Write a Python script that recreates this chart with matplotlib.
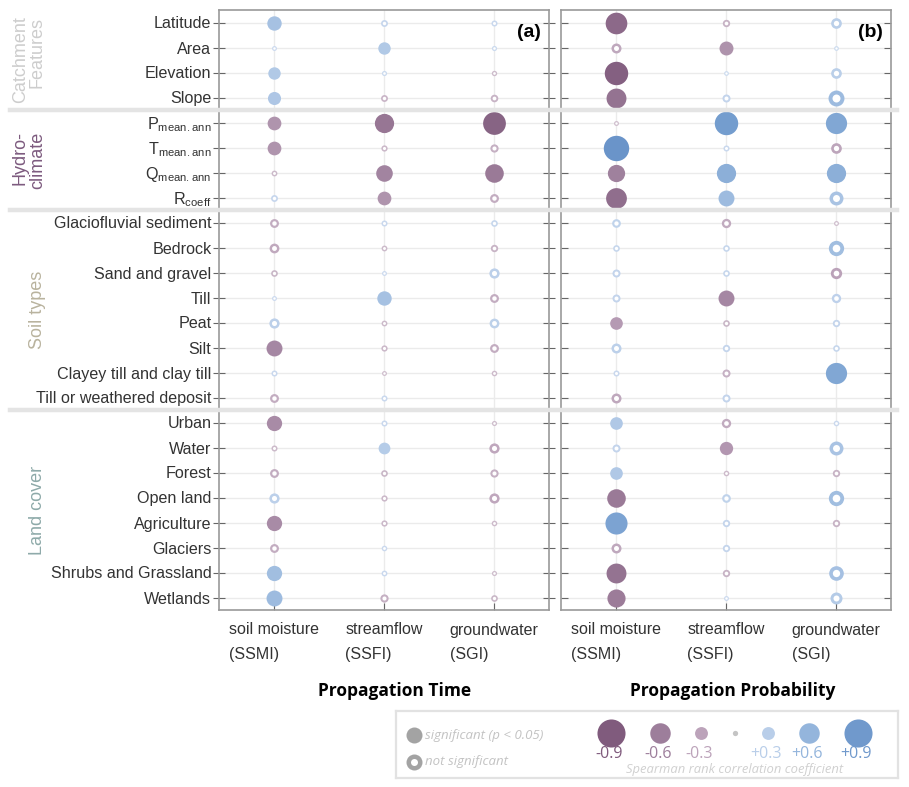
import numpy as np
import matplotlib
matplotlib.use('Agg')
import matplotlib.pyplot as plt
import matplotlib.transforms as mtransforms
from matplotlib.lines import Line2D
from matplotlib.colors import LinearSegmentedColormap, to_hex

plt.rcParams['font.family'] = ['Liberation Sans', 'DejaVu Sans']
plt.rcParams['mathtext.default'] = 'regular'

#==== Data
features = ['Latitude', 'Area', 'Elevation', 'Slope',
            r'P$_{mean.ann}$', r'T$_{mean.ann}$', r'Q$_{mean.ann}$', r'R$_{coeff}$',
            'Glaciofluvial sediment', 'Bedrock', 'Sand and gravel', 'Till', 'Peat',
            'Silt', 'Clayey till and clay till', 'Till or weathered deposit',
            'Urban', 'Water', 'Forest', 'Open land', 'Agriculture', 'Glaciers',
            'Shrubs and Grassland', 'Wetlands']

variables = ['soil moisture\n(SSMI)', 'streamflow\n(SSFI)', 'groundwater\n(SGI)']

# group name, first row, last row, colour
groups = [('Catchment\nFeatures', 0, 3, '#cdcdcd'),
          ('Hydro-\nclimate', 4, 7, '#7d5b7f'),
          ('Soil types', 8, 15, '#b9b39e'),
          ('Land cover', 16, 23, '#8eaaa9')]

nan = np.nan
# Spearman rho, propagation time  (SSMI, SSFI, SGI)
rho_time = [[0.45, 0.11, 0.07], [0.02, 0.36, 0.03], [0.36, 0.03, -0.04], [0.39, -0.11, -0.14],
            [-0.42, -0.67, -0.83], [-0.42, -0.08, -0.17], [-0.06, -0.55, -0.64], [0.11, -0.42, -0.20],
            [-0.20, 0.07, 0.10], [-0.24, -0.06, -0.13], [-0.10, 0.02, 0.26], [0.02, 0.45, -0.20],
            [0.26, -0.06, 0.24], [-0.52, -0.08, -0.20], [0.07, -0.02, -0.05], [-0.20, 0.07, nan],
            [-0.49, 0.07, -0.03], [-0.07, 0.33, -0.26], [-0.20, -0.10, -0.17], [0.26, -0.08, -0.26],
            [-0.49, -0.08, -0.05], [-0.20, 0.05, nan], [0.49, 0.06, -0.03], [0.52, -0.17, -0.10]]
sig_time = [[1, 0, 0], [0, 1, 0], [1, 0, 0], [1, 0, 0],
            [1, 1, 1], [1, 0, 0], [0, 1, 1], [0, 1, 0],
            [0, 0, 0], [0, 0, 0], [0, 0, 0], [0, 1, 0],
            [0, 0, 0], [1, 0, 0], [0, 0, 0], [0, 0, 0],
            [1, 0, 0], [0, 1, 0], [0, 0, 0], [0, 0, 0],
            [1, 0, 0], [0, 0, 0], [1, 0, 0], [1, 0, 0]]

# Spearman rho, propagation probability
rho_prob = [[-0.78, -0.13, 0.28], [-0.25, -0.43, 0.01], [-0.86, 0.01, 0.28], [-0.70, 0.16, 0.52],
            [-0.02, 0.86, 0.76], [0.95, 0.07, -0.28], [-0.58, 0.67, 0.67], [-0.74, 0.52, 0.43],
            [0.19, -0.22, -0.02], [0.10, 0.10, 0.49], [0.16, 0.10, -0.31], [0.16, -0.52, 0.22],
            [-0.37, -0.10, 0.13], [0.25, 0.13, 0.10], [0.07, -0.16, 0.76], [-0.25, 0.16, nan],
            [0.37, -0.22, 0.05], [0.16, -0.40, 0.43], [0.37, -0.05, -0.13], [-0.64, 0.19, 0.49],
            [0.80, 0.13, -0.13], [-0.25, 0.13, nan], [-0.70, -0.13, 0.46], [-0.62, 0.02, 0.34]]
sig_prob = [[1, 0, 0], [0, 1, 0], [1, 0, 0], [1, 0, 0],
            [0, 1, 1], [1, 0, 0], [1, 1, 1], [1, 1, 0],
            [0, 0, 0], [0, 0, 0], [0, 0, 0], [0, 1, 0],
            [1, 0, 0], [0, 0, 0], [0, 0, 1], [0, 0, 0],
            [1, 0, 0], [0, 1, 0], [1, 0, 0], [1, 0, 0],
            [1, 0, 0], [0, 0, 0], [1, 0, 0], [1, 0, 0]]

legend_values = [-0.9, -0.6, -0.3, 0.0, 0.3, 0.6, 0.9]

#==== Colours and sizes
neg_cmap = LinearSegmentedColormap.from_list('neg', [(0, '#d0c0ce'), (0.3, '#bca3ba'), (0.5, '#a78aa5'),
                                                     (0.75, '#8f6d8c'), (1.0, '#765073')])
pos_cmap = LinearSegmentedColormap.from_list('pos', [(0, '#cddbef'), (0.3, '#b9cee9'), (0.5, '#a0bde0'),
                                                     (0.75, '#82a8d5'), (1.0, '#648fc6')])

def rho_color(r):
    if r > 0:
        return to_hex(pos_cmap(abs(r)))
    if r < 0:
        return to_hex(neg_cmap(abs(r)))
    return '#c4c4c4'

DPI = 100
def area(d_px):
    return (d_px * 72.0 / DPI) ** 2

#==== Dot panel
def dot_panel(ax, rho, sig, tag, show_labels):
    rho = np.array(rho, dtype=float)
    sig = np.array(sig)
    for j in range(len(variables)):
        for i in range(len(features)):
            r = rho[i, j]
            if np.isnan(r):
                continue
            d = 4.5 + 22 * abs(r)
            ax.scatter(j, i, s=area(d), color=rho_color(r), linewidths=0, zorder=3)
            if not sig[i, j]:
                ax.scatter(j, i, s=area(0.5 * d), color='white', linewidths=0, zorder=4)
    ax.set_xlim(-0.5, len(variables) - 0.5)
    ax.set_ylim(len(features) - 0.5, -0.5)
    ax.set_xticks(range(len(variables)))
    ax.set_xticklabels(variables, fontsize=11.5, color='#333333', linespacing=1.75,
                       multialignment='left')
    ax.set_yticks(range(len(features)))
    if show_labels:
        ax.set_yticklabels(features, fontsize=11.6, color='#333333')
        ax.tick_params(axis='y', direction='inout', length=8, pad=1.5, left=True, right=True)
    else:
        ax.set_yticklabels([])
        ax.tick_params(axis='y', direction='in', length=5, left=True, right=True)
    ax.tick_params(axis='x', direction='in', length=5, pad=9)
    ax.tick_params(colors='#666666', labelcolor='#333333')
    ax.grid(True, color='#ebebeb', lw=1, zorder=0)
    ax.set_axisbelow(True)
    for s in ax.spines.values():
        s.set_color('#9a9a9a')
        s.set_linewidth(1.2)
    ax.text(0.975, 0.977, tag, transform=ax.transAxes, ha='right', va='top',
            fontsize=14, fontweight='bold', color='black', zorder=6)

fig = plt.figure(figsize=(9.09, 7.87), dpi=DPI)
W, H = 909.0, 787.0
axA = fig.add_axes([219 / W, 1 - 610 / H, 330 / W, 600 / H])
axB = fig.add_axes([561 / W, 1 - 610 / H, 330 / W, 600 / H])
dot_panel(axA, rho_time, sig_time, '(a)', True)
dot_panel(axB, rho_prob, sig_prob, '(b)', False)

# group separators and group names
trans = mtransforms.blended_transform_factory(fig.transFigure, axA.transData)
for name, first, last, col in groups:
    if first > 0:
        fig.add_artist(Line2D([10 / W, 897 / W], [first - 0.5, first - 0.5], transform=trans,
                              color='#e4e4e4', lw=3.2, zorder=5))
    fig.text(46 / W, (first + last) / 2.0, name, transform=trans, rotation=90,
             ha='right', va='center', fontsize=13, color=col, linespacing=1.0)

fig.text(395 / W, 1 - 691 / H, 'Propagation Time', ha='center', va='center',
         fontsize=12.5, fontweight='bold', family=['Open Sans', 'DejaVu Sans'], color='black')
fig.text(733 / W, 1 - 691 / H, 'Propagation Probability', ha='center', va='center',
         fontsize=12.5, fontweight='bold', family=['Open Sans', 'DejaVu Sans'], color='black')

#==== Legend
lg = fig.add_axes([396 / W, 1 - 778 / H, 502 / W, 67 / H])
lg.set_xlim(0, 502)
lg.set_ylim(67, 0)
lg.set_xticks([])
lg.set_yticks([])
for s in lg.spines.values():
    s.set_color('#e2e2e2')
    s.set_linewidth(1.6)

lfont = ['Open Sans', 'DejaVu Sans']
lg.scatter([18], [24], s=area(16), color='#a3a3a3', linewidths=0)
lg.scatter([18], [51], s=area(16), color='#a3a3a3', linewidths=0)
lg.scatter([18], [51], s=area(7), color='white', linewidths=0)
lg.text(29, 24, 'significant (p < 0.05)', ha='left', va='center', fontsize=9.5,
        style='italic', color='#c3c3c3', family=lfont)
lg.text(29, 51, 'not significant', ha='left', va='center', fontsize=9.5,
        style='italic', color='#c3c3c3', family=lfont)

x = 215.0
prev_r = None
for v in legend_values:
    d = 5.3 + 25.3 * abs(v)
    if prev_r is not None:
        x += prev_r + 24.5 + d / 2
    prev_r = d / 2
    lg.scatter([x], [22], s=area(d), color=rho_color(v), linewidths=0)
    if v != 0:
        lg.text(x - 2, 43, '%+.1f' % v if v > 0 else '%.1f' % v, ha='center', va='center',
                fontsize=11.5, color=rho_color(v), family=lfont)
lg.text(339, 58, 'Spearman rank correlation coefficient', ha='center', va='center',
        fontsize=9.4, style='italic', color='#d0d0d0', family=lfont)

plt.savefig('out.png', dpi=DPI)
